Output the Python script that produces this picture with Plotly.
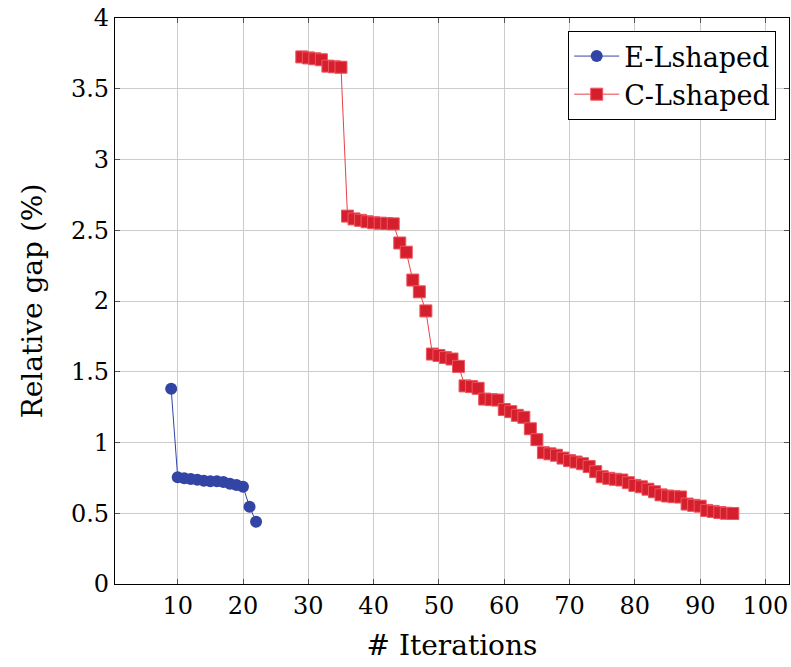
import plotly.graph_objects as go

e_iter = list(range(9, 23))
e_gap = [1.38, 0.755, 0.748, 0.742, 0.736, 0.730, 0.726, 0.726, 0.721, 0.708, 0.700, 0.688, 0.546, 0.44]

c_iter = list(range(29, 96))
c_gap = [3.725, 3.718, 3.712, 3.705, 3.66, 3.655, 3.652,
         2.60, 2.58, 2.57, 2.56, 2.553, 2.55, 2.548, 2.545,
         2.41, 2.345, 2.148, 2.065, 1.93,
         1.625, 1.615, 1.60, 1.59, 1.538,
         1.40, 1.395, 1.383, 1.307, 1.303, 1.30,
         1.233, 1.218, 1.192, 1.178, 1.097, 1.02,
         0.928, 0.92, 0.91, 0.89, 0.872, 0.862, 0.85, 0.83,
         0.794, 0.758, 0.747, 0.740, 0.735, 0.716, 0.697, 0.687, 0.670, 0.652,
         0.630, 0.622, 0.617, 0.615, 0.565, 0.556, 0.55,
         0.520, 0.513, 0.505, 0.500, 0.498]

x_ticks = [10, 20, 30, 40, 50, 60, 70, 80, 90, 100]
y_ticks = [0, 0.5, 1, 1.5, 2, 2.5, 3, 3.5, 4]
y_tick_text = ["0", "0.5", "1", "1.5", "2", "2.5", "3", "3.5", "4"]

FONT = "DejaVu Serif"
blue = "#3345a4"
red = "#d61f2c"

fig = go.Figure()
fig.add_trace(go.Scatter(
    x=e_iter, y=e_gap, mode="lines+markers", name="E-Lshaped",
    line=dict(color=blue, width=1),
    marker=dict(symbol="circle", size=12, color=blue),
))
fig.add_trace(go.Scatter(
    x=c_iter, y=c_gap, mode="lines+markers", name="C-Lshaped",
    line=dict(color="#e8404a", width=1),
    marker=dict(symbol="square", size=12, color=red,
                line=dict(color="#ee5560", width=1)),
))

axis_common = dict(
    showline=True, linecolor="black", linewidth=1.2, mirror="allticks",
    ticks="inside", ticklen=5, tickcolor="#555555", tickwidth=1,
    showgrid=True, gridcolor="#cccccc", gridwidth=1,
    zeroline=False,
    tickfont=dict(family=FONT, size=24, color="black"),
)

fig.update_layout(
    width=791, height=667,
    margin=dict(l=115, r=2, t=18, b=83),
    paper_bgcolor="white", plot_bgcolor="white",
    font=dict(family=FONT, color="black"),
    xaxis=dict(range=[0.4, 103.6], tickvals=x_ticks,
               title=dict(text="# Iterations", font=dict(family=FONT, size=28), standoff=16),
               **axis_common),
    yaxis=dict(range=[0, 4], tickvals=y_ticks, ticktext=y_tick_text,
               title=dict(text="Relative gap (%)", font=dict(family=FONT, size=28), standoff=20),
               **axis_common),
    legend=dict(x=0.981, y=0.977, xanchor="right", yanchor="top",
                bgcolor="white", bordercolor="black", borderwidth=1,
                font=dict(family=FONT, size=27), itemwidth=45,
                tracegroupgap=0),
    showlegend=True,
)

fig.write_html("out.html")
